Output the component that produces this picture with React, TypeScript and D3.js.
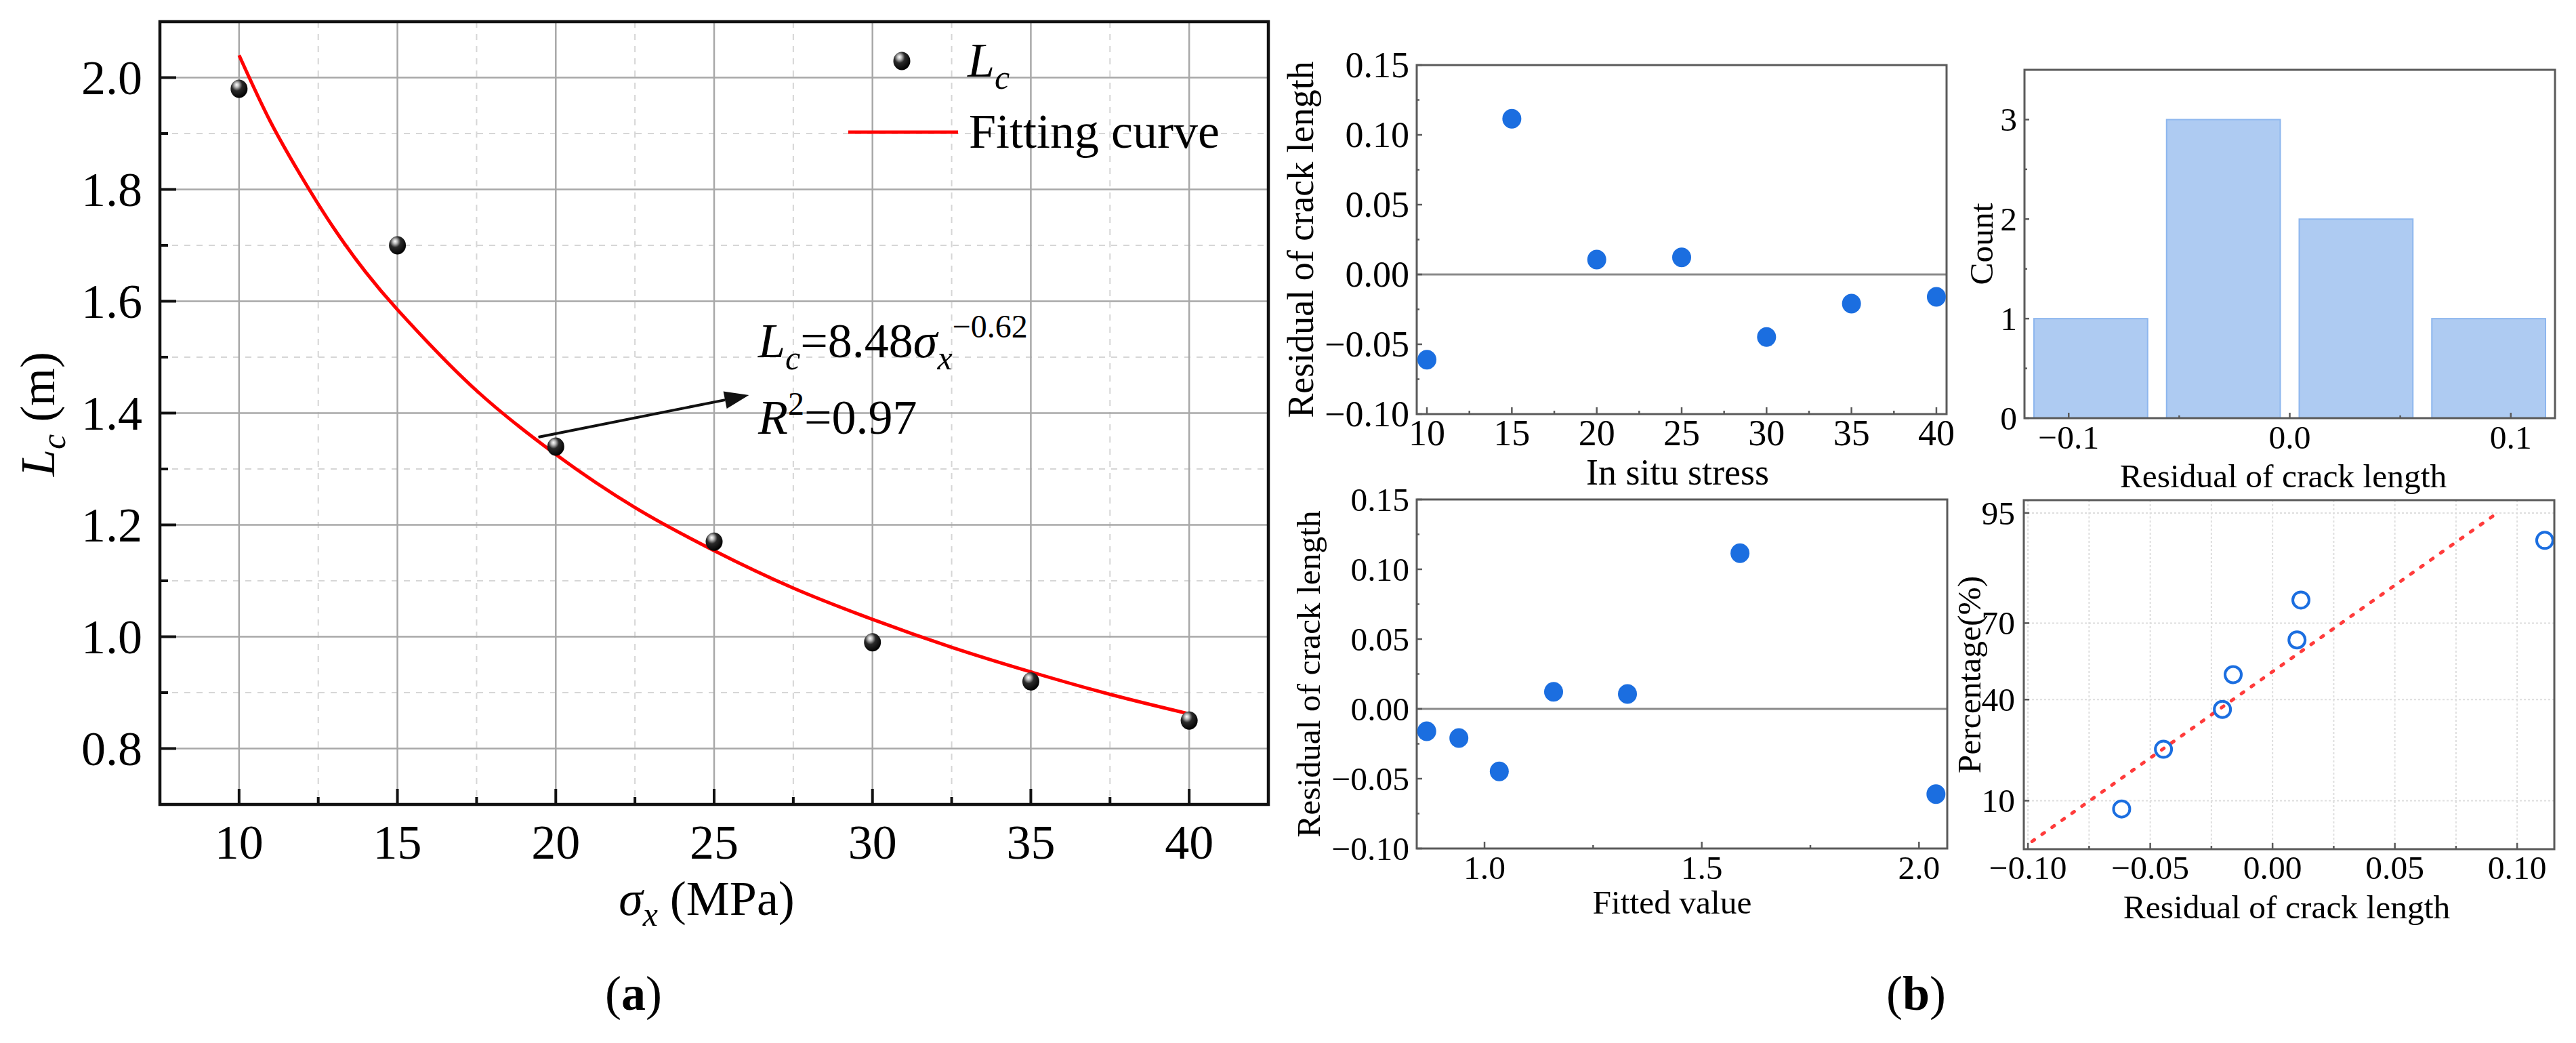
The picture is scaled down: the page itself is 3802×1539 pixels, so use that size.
import React from 'react';
import * as d3 from 'd3';

// ---------- DATA ----------
// Panel (a)
const stress = [10, 15, 20, 25, 30, 35, 40];
const crackLength = [1.98, 1.70, 1.34, 1.17, 0.99, 0.92, 0.85];
const curveStress = [10, 11, 12, 13, 14, 15, 17.5, 20, 22.5, 25, 27.5, 30, 32.5, 35, 37.5, 40];
const curveLength = [2.04, 1.92, 1.82, 1.73, 1.652, 1.585, 1.44, 1.326, 1.231, 1.154, 1.087, 1.031, 0.981, 0.937, 0.897, 0.862];
const aXTicks = [10, 15, 20, 25, 30, 35, 40];
const aXMinor = [12.5, 17.5, 22.5, 27.5, 32.5, 37.5];
const aYTicks = [0.8, 1.0, 1.2, 1.4, 1.6, 1.8, 2.0];
const aYMinor = [0.9, 1.1, 1.3, 1.5, 1.7, 1.9];
const arrowFrom = [19.45, 1.357];
const arrowTo = [26.1, 1.432];

// Panel (b) residuals
const residuals = [-0.061, 0.1115, 0.0107, 0.0122, -0.0448, -0.0209, -0.016];
const fittedValues = [2.039, 1.588, 1.329, 1.159, 1.034, 0.941, 0.867];
const resYTicks = [-0.10, -0.05, 0, 0.05, 0.10, 0.15];
const resYMinor = [-0.075, -0.025, 0.025, 0.075, 0.125];
const stressXTicks = [10, 15, 20, 25, 30, 35, 40];
const stressXMinor = [12.5, 17.5, 22.5, 27.5, 32.5, 37.5];
const fittedXTicks = [1.0, 1.5, 2.0];
const fittedXMinor = [1.25, 1.75];

// Histogram
const histBinStart = [-0.12, -0.06, 0, 0.06];
const histBinWidth = 0.06;
const histCounts = [1, 3, 2, 1];
const histXTicks = [-0.1, 0, 0.1];
const histXMinor = [-0.05, 0.05];
const histYTicks = [0, 1, 2, 3];
const histYMinor = [0.5, 1.5, 2.5];

// Normal probability plot
const qqResidual = [-0.0617, -0.0446, -0.0205, -0.0161, 0.0100, 0.0116, 0.1113];
const qqPercent = [8.6, 22.4, 36.2, 50, 63.8, 77.6, 91.4];
const refLinePercent = [4.5, 95];
const refLineResidual = [-0.0983, 0.0919];
const qqXTicks = [-0.10, -0.05, 0, 0.05, 0.10];
const qqXMinor = [-0.075, -0.025, 0.025, 0.075];
const qqYTicks = [10, 40, 70, 95];

// ---------- HELPERS ----------
const FONT = "'Liberation Serif','Times New Roman',Times,serif";
const BLUE = '#1b6ee0';

function normInv(p: number): number {
  const a = [-3.969683028665376e1, 2.209460984245205e2, -2.759285104469687e2, 1.38357751867269e2, -3.066479806614716e1, 2.506628277459239];
  const b = [-5.447609879822406e1, 1.615858368580409e2, -1.556989798598866e2, 6.680131188771972e1, -1.328068155288572e1];
  const c = [-7.784894002430293e-3, -3.223964580411365e-1, -2.400758277161838, -2.549732539343734, 4.374664141464968, 2.938163982698783];
  const d = [7.784695709041462e-3, 3.224671290700398e-1, 2.445134137142996, 3.754408661907416];
  const pl = 0.02425;
  if (p < pl) {
    const q = Math.sqrt(-2 * Math.log(p));
    return (((((c[0] * q + c[1]) * q + c[2]) * q + c[3]) * q + c[4]) * q + c[5]) / ((((d[0] * q + d[1]) * q + d[2]) * q + d[3]) * q + 1);
  }
  if (p <= 1 - pl) {
    const q = p - 0.5;
    const r = q * q;
    return ((((((a[0] * r + a[1]) * r + a[2]) * r + a[3]) * r + a[4]) * r + a[5]) * q) / (((((b[0] * r + b[1]) * r + b[2]) * r + b[3]) * r + b[4]) * r + 1);
  }
  const q = Math.sqrt(-2 * Math.log(1 - p));
  return -(((((c[0] * q + c[1]) * q + c[2]) * q + c[3]) * q + c[4]) * q + c[5]) / ((((d[0] * q + d[1]) * q + d[2]) * q + d[3]) * q + 1);
}

type Box = { l: number; r: number; t: number; b: number };

function Frame({ box, color, width }: { box: Box; color: string; width: number }) {
  return <rect x={box.l} y={box.t} width={box.r - box.l} height={box.b - box.t} fill="none" stroke={color} strokeWidth={width} />;
}

function XTicks({ scale, ticks, minor, box, major, minorLen, color, width, fmt, fs, labelY }: any) {
  return (
    <g>
      {ticks.map((t: number, i: number) => (
        <line key={'M' + i} x1={scale(t)} x2={scale(t)} y1={box.b} y2={box.b - major} stroke={color} strokeWidth={width} />
      ))}
      {minor.map((t: number, i: number) => (
        <line key={'m' + i} x1={scale(t)} x2={scale(t)} y1={box.b} y2={box.b - minorLen} stroke={color} strokeWidth={width} />
      ))}
      {ticks.map((t: number, i: number) => (
        <text key={'t' + i} x={scale(t)} y={labelY} fontSize={fs} textAnchor="middle" fill="#000">
          {fmt(t)}
        </text>
      ))}
    </g>
  );
}

function YTicks({ scale, ticks, minor, box, major, minorLen, color, width, fmt, fs, labelX }: any) {
  return (
    <g>
      {ticks.map((t: number, i: number) => (
        <line key={'M' + i} x1={box.l} x2={box.l + major} y1={scale(t)} y2={scale(t)} stroke={color} strokeWidth={width} />
      ))}
      {minor.map((t: number, i: number) => (
        <line key={'m' + i} x1={box.l} x2={box.l + minorLen} y1={scale(t)} y2={scale(t)} stroke={color} strokeWidth={width} />
      ))}
      {ticks.map((t: number, i: number) => (
        <text key={'t' + i} x={labelX} y={scale(t) + fs * 0.34} fontSize={fs} textAnchor="end" fill="#000">
          {fmt(t)}
        </text>
      ))}
    </g>
  );
}

// ---------- PANEL A ----------
function PanelA() {
  const box: Box = { l: 236, r: 1872, t: 32, b: 1187 };
  const x = d3.scaleLinear().domain([7.5, 42.5]).range([box.l, box.r]);
  const y = d3.scaleLinear().domain([0.7, 2.1]).range([box.b, box.t]);
  const pts = curveStress.map((s, i) => [s, curveLength[i]] as [number, number]);
  const line = d3.line<[number, number]>().x((d) => x(d[0])).y((d) => y(d[1])).curve(d3.curveCatmullRom)(pts) || '';
  const x1 = x(arrowFrom[0]), y1 = y(arrowFrom[1]), x2 = x(arrowTo[0]), y2 = y(arrowTo[1]);
  const ang = Math.atan2(y2 - y1, x2 - x1);
  const hl = 36, hw = 13;
  const bx = x2 - hl * Math.cos(ang), by = y2 - hl * Math.sin(ang);
  const head = `M${x2},${y2} L${bx + hw * Math.sin(ang)},${by - hw * Math.cos(ang)} L${bx - hw * Math.sin(ang)},${by + hw * Math.cos(ang)} Z`;
  const fmt = d3.format('.1f');
  return (
    <g>
      {aXMinor.map((t, i) => (
        <line key={'gx' + i} x1={x(t)} x2={x(t)} y1={box.t} y2={box.b} stroke="#d6d6d6" strokeWidth={2} strokeDasharray="9 9" />
      ))}
      {aYMinor.map((t, i) => (
        <line key={'gy' + i} x1={box.l} x2={box.r} y1={y(t)} y2={y(t)} stroke="#d6d6d6" strokeWidth={2} strokeDasharray="9 9" />
      ))}
      {aXTicks.map((t, i) => (
        <line key={'GX' + i} x1={x(t)} x2={x(t)} y1={box.t} y2={box.b} stroke="#a8a8a8" strokeWidth={2.5} />
      ))}
      {aYTicks.map((t, i) => (
        <line key={'GY' + i} x1={box.l} x2={box.r} y1={y(t)} y2={y(t)} stroke="#a8a8a8" strokeWidth={2.5} />
      ))}
      <Frame box={box} color="#111" width={4.5} />
      <XTicks scale={x} ticks={aXTicks} minor={aXMinor} box={box} major={23} minorLen={11} color="#111" width={4} fmt={d3.format('d')} fs={72} labelY={1267} />
      <YTicks scale={y} ticks={aYTicks} minor={aYMinor} box={box} major={24} minorLen={12} color="#111" width={4} fmt={fmt} fs={72} labelX={210} />
      <path d={line} fill="none" stroke="#ff0000" strokeWidth={5} />
      {stress.map((s, i) => (
        <ellipse key={'p' + i} cx={x(s)} cy={y(crackLength[i])} rx={12.5} ry={13.5} fill="url(#sphere)" />
      ))}
      <line x1={x1} y1={y1} x2={bx} y2={by} stroke="#111" strokeWidth={4} />
      <path d={head} fill="#111" />
      {/* annotation */}
      <text x={1119} y={527} fontSize={72} fill="#000">
        <tspan fontStyle="italic">L</tspan>
        <tspan fontStyle="italic" fontSize={50} dy={18}>c</tspan>
        <tspan dy={-18}>=8.48</tspan>
        <tspan fontStyle="italic">σ</tspan>
        <tspan fontStyle="italic" fontSize={50} dy={18}>x</tspan>
        <tspan fontSize={48} dy={-47}>−0.62</tspan>
      </text>
      <text x={1119} y={640} fontSize={72} fill="#000">
        <tspan fontStyle="italic">R</tspan>
        <tspan fontSize={48} dy={-28}>2</tspan>
        <tspan dy={28}>=0.97</tspan>
      </text>
      {/* legend */}
      <ellipse cx={1331} cy={90} rx={12.5} ry={13.5} fill="url(#sphere)" />
      <text x={1428} y={113} fontSize={72} fill="#000">
        <tspan fontStyle="italic">L</tspan>
        <tspan fontStyle="italic" fontSize={50} dy={18}>c</tspan>
      </text>
      <line x1={1252} x2={1414} y1={195} y2={195} stroke="#ff0000" strokeWidth={5} />
      <text x={1430} y={218} fontSize={72} fill="#000">Fitting curve</text>
      {/* axis titles */}
      <text x={1043} y={1350} fontSize={72} textAnchor="middle" fill="#000">
        <tspan fontStyle="italic">σ</tspan>
        <tspan fontStyle="italic" fontSize={50} dy={16}>x</tspan>
        <tspan dy={-16}> (MPa)</tspan>
      </text>
      <text transform="translate(80,611) rotate(-90)" fontSize={72} textAnchor="middle" fill="#000">
        <tspan fontStyle="italic">L</tspan>
        <tspan fontStyle="italic" fontSize={50} dy={16}>c</tspan>
        <tspan dy={-16}> (m)</tspan>
      </text>
      <text x={935} y={1490} fontSize={72} textAnchor="middle" fill="#000">
        (<tspan fontWeight="bold">a</tspan>)
      </text>
    </g>
  );
}

// ---------- PANEL B ----------
const GRAY = '#5a5a5a';

function ResidualPlot({ box, xDomain, xs, xTicks, xMinor, xFmt, fs, tickLabelY, xLabel, xLabelX, xLabelY, yLabelX }: any) {
  const x = d3.scaleLinear().domain(xDomain).range([box.l, box.r]);
  const y = d3.scaleLinear().domain([-0.10, 0.15]).range([box.b, box.t]);
  return (
    <g>
      <line x1={box.l} x2={box.r} y1={y(0)} y2={y(0)} stroke="#8a8a8a" strokeWidth={3} />
      <Frame box={box} color={GRAY} width={3} />
      <XTicks scale={x} ticks={xTicks} minor={xMinor} box={box} major={10} minorLen={5} color={GRAY} width={2.5} fmt={xFmt} fs={fs} labelY={tickLabelY} />
      <YTicks scale={y} ticks={resYTicks} minor={resYMinor} box={box} major={8} minorLen={4} color={GRAY} width={2.5} fmt={d3.format('.2f')} fs={fs} labelX={box.l - 11} />
      {xs.map((v: number, i: number) => (
        <ellipse key={i} cx={x(v)} cy={y(residuals[i])} rx={14} ry={14.5} fill={BLUE} />
      ))}
      <text x={xLabelX} y={xLabelY} fontSize={fs} textAnchor="middle" fill="#000">{xLabel}</text>
      <text transform={`translate(${yLabelX},${(box.t + box.b) / 2}) rotate(-90)`} fontSize={fs} textAnchor="middle" fill="#000">
        Residual of crack length
      </text>
    </g>
  );
}

function Histogram() {
  const box: Box = { l: 2988, r: 3771, t: 103, b: 617 };
  const x = d3.scaleLinear().domain([-0.12, 0.12]).range([box.l, box.r]);
  const y = d3.scaleLinear().domain([0, 3.5]).range([box.b, box.t]);
  const fs = 49.5;
  const inset = 14;
  return (
    <g>
      {histBinStart.map((b0, i) => (
        <rect key={i} x={x(b0) + inset} y={y(histCounts[i])} width={x(b0 + histBinWidth) - x(b0) - 2 * inset} height={y(0) - y(histCounts[i])}
          fill="#aecbf2" stroke="#8db6ee" strokeWidth={2} />
      ))}
      <Frame box={box} color={GRAY} width={3} />
      <XTicks scale={x} ticks={histXTicks} minor={histXMinor} box={box} major={8} minorLen={4} color={GRAY} width={2.5} fmt={d3.format('.1f')} fs={fs} labelY={662} />
      <YTicks scale={y} ticks={histYTicks} minor={histYMinor} box={box} major={7} minorLen={4} color={GRAY} width={2.5} fmt={d3.format('d')} fs={fs} labelX={box.l - 11} />
      <text x={3370} y={719} fontSize={fs} textAnchor="middle" fill="#000">Residual of crack length</text>
      <text transform={`translate(2941,${(box.t + box.b) / 2}) rotate(-90)`} fontSize={fs} textAnchor="middle" fill="#000">Count</text>
    </g>
  );
}

function ProbPlot() {
  const box: Box = { l: 2987, r: 3770, t: 738, b: 1253 };
  const x = d3.scaleLinear().domain([-0.1017, 0.1152]).range([box.l, box.r]);
  const zs = d3.scaleLinear().domain([-1.775, 1.775]).range([box.b, box.t]);
  const y = (p: number) => zs(normInv(p / 100));
  const fs = 49.5;
  const grid = [...qqXTicks, ...qqXMinor];
  return (
    <g>
      {grid.map((t, i) => (
        <line key={'gx' + i} x1={x(t)} x2={x(t)} y1={box.t} y2={box.b} stroke="#dedede" strokeWidth={2} strokeDasharray="3 3" />
      ))}
      {qqYTicks.map((t, i) => (
        <line key={'gy' + i} x1={box.l} x2={box.r} y1={y(t)} y2={y(t)} stroke="#dedede" strokeWidth={2} strokeDasharray="3 3" />
      ))}
      <line x1={x(refLineResidual[0])} y1={y(refLinePercent[0])} x2={x(refLineResidual[1])} y2={y(refLinePercent[1])}
        stroke="#ff3b3b" strokeWidth={5} strokeDasharray="4 14" strokeLinecap="round" />
      {qqResidual.map((v, i) => (
        <circle key={i} cx={x(v)} cy={y(qqPercent[i])} r={12} fill="none" stroke={BLUE} strokeWidth={4} />
      ))}
      <Frame box={box} color={GRAY} width={3} />
      <XTicks scale={x} ticks={qqXTicks} minor={qqXMinor} box={box} major={9} minorLen={5} color={GRAY} width={2.5} fmt={d3.format('.2f')} fs={fs} labelY={1297} />
      <YTicks scale={(p: number) => y(p)} ticks={qqYTicks} minor={[]} box={box} major={8} minorLen={4} color={GRAY} width={2.5} fmt={d3.format('d')} fs={fs} labelX={box.l - 13} />
      <text x={3375} y={1355} fontSize={fs} textAnchor="middle" fill="#000">Residual of crack length</text>
      <text transform={`translate(2923,${(box.t + box.b) / 2}) rotate(-90)`} fontSize={fs} textAnchor="middle" fill="#000">Percentage(%)</text>
    </g>
  );
}

function PanelB() {
  return (
    <g>
      <ResidualPlot
        box={{ l: 2091, r: 2873, t: 96, b: 611 }}
        xDomain={[9.4, 40.6]}
        xs={stress}
        xTicks={stressXTicks}
        xMinor={stressXMinor}
        xFmt={d3.format('d')}
        fs={54}
        tickLabelY={657}
        xLabel="In situ stress"
        xLabelX={2476}
        xLabelY={715}
        yLabelX={1938}
      />
      <ResidualPlot
        box={{ l: 2091, r: 2874, t: 737, b: 1252 }}
        xDomain={[0.844, 2.065]}
        xs={fittedValues}
        xTicks={fittedXTicks}
        xMinor={fittedXMinor}
        xFmt={d3.format('.1f')}
        fs={49.5}
        tickLabelY={1297}
        xLabel="Fitted value"
        xLabelX={2468}
        xLabelY={1348}
        yLabelX={1948}
      />
      <Histogram />
      <ProbPlot />
      <text x={2828} y={1490} fontSize={72} textAnchor="middle" fill="#000">
        (<tspan fontWeight="bold">b</tspan>)
      </text>
    </g>
  );
}

export default function App() {
  return (
    <div style={{ position: 'absolute', left: 0, top: 0 }}>
      <svg width={3802} height={1539} viewBox="0 0 3802 1539" style={{ display: 'block', background: '#fff' }} fontFamily={FONT}>
        <defs>
          <radialGradient id="sphere" cx="0.38" cy="0.32" r="0.7" fx="0.36" fy="0.28">
            <stop offset="0" stopColor="#ffffff" />
            <stop offset="0.18" stopColor="#bdbdbd" />
            <stop offset="0.45" stopColor="#2a2a2a" />
            <stop offset="1" stopColor="#000000" />
          </radialGradient>
        </defs>
        <rect x={0} y={0} width={3802} height={1539} fill="#fff" />
        <PanelA />
        <PanelB />
      </svg>
    </div>
  );
}
